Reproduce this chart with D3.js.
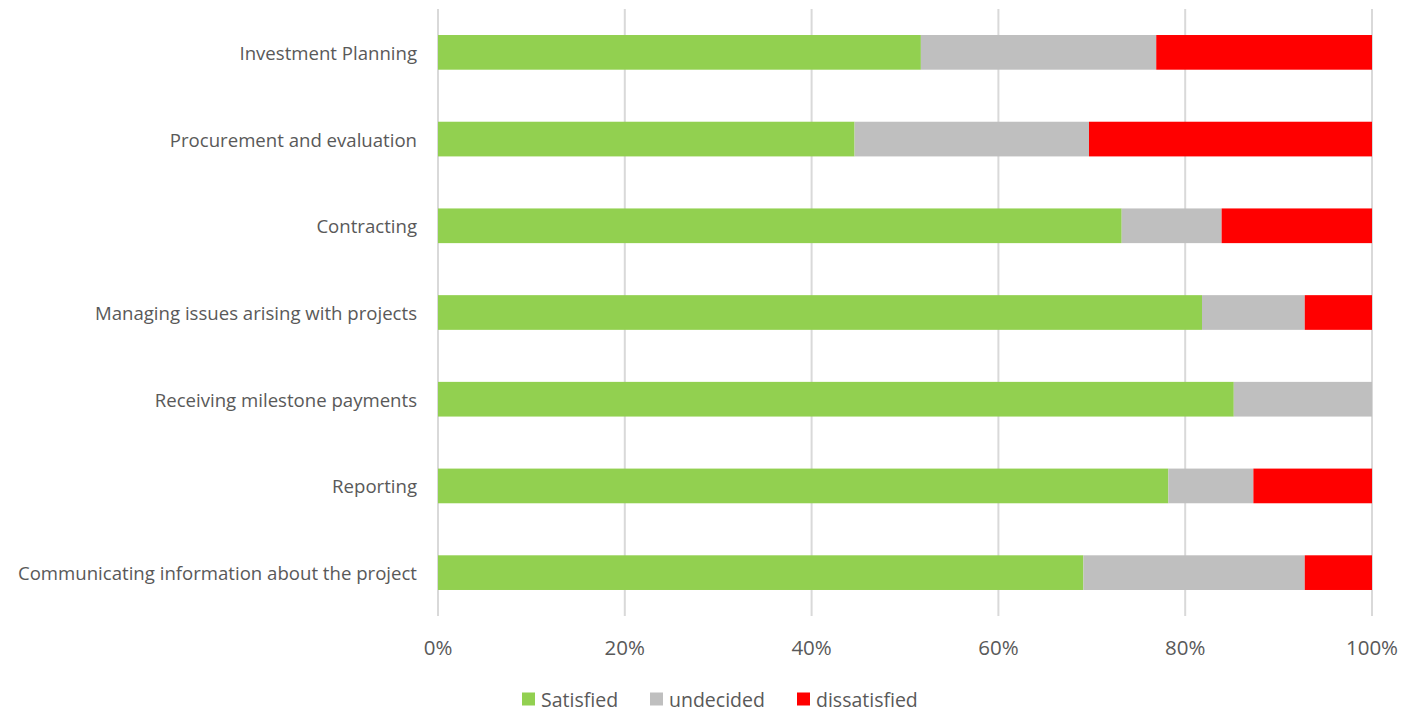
<!DOCTYPE html>
<html>
<head>
<meta charset="utf-8">
<script src="https://cdn.jsdelivr.net/npm/d3@7"></script>
<style>
  body{margin:0;background:#fff;}
  text{font-family:"Open Sans",sans-serif;fill:#595959;}
</style>
</head>
<body>
<svg width="1403" height="711"></svg>
<script>
const categories=['Investment Planning','Procurement and evaluation','Contracting','Managing issues arising with projects','Receiving milestone payments','Reporting','Communicating information about the project'];
const satisfied=[51.7,44.6,73.2,81.8,85.2,78.2,69.1];
const undecided=[25.2,25.1,10.7,11.0,14.8,9.1,23.7];
const dissatisfied=[23.1,30.3,16.1,7.2,0,12.7,7.2];
const seriesNames=['Satisfied','undecided','dissatisfied'];
const colors=['#92d050','#bfbfbf','#ff0000'];
const ticks=[0,20,40,60,80,100];

const svg=d3.select('svg');
const margin={top:9,left:438,right:31,bottom:95};
const W=1403,H=711;

const rows=categories.map((c,i)=>({cat:c,Satisfied:satisfied[i],undecided:undecided[i],dissatisfied:dissatisfied[i]}));
const stacked=d3.stack().keys(seriesNames)(rows);

const x=d3.scaleLinear().domain([0,100]).range([margin.left,W-margin.right]);
const y=d3.scaleBand().domain(categories).range([margin.top,H-margin.bottom]).paddingInner(0.6).paddingOuter(0.3);

//gridlines
svg.append('g').selectAll('line').data(ticks).join('line')
  .attr('x1',d=>x(d)).attr('x2',d=>x(d))
  .attr('y1',margin.top).attr('y2',H-margin.bottom)
  .attr('stroke','#d9d9d9').attr('stroke-width',2);

//bars
svg.append('g').selectAll('g').data(stacked).join('g')
  .attr('fill',(d,i)=>colors[i])
  .selectAll('rect').data(d=>d).join('rect')
  .attr('x',d=>x(d[0]))
  .attr('width',d=>x(d[1])-x(d[0]))
  .attr('y',d=>y(d.data.cat))
  .attr('height',y.bandwidth());

//category labels
svg.append('g').selectAll('text').data(categories).join('text')
  .attr('x',margin.left-21)
  .attr('y',d=>y(d)+y.bandwidth()/2)
  .attr('text-anchor','end')
  .attr('dominant-baseline','central')
  .style('font-size','18.6px')
  .text(d=>d);

//x tick labels
svg.append('g').selectAll('text').data(ticks).join('text')
  .attr('x',d=>x(d))
  .attr('y',647)
  .attr('text-anchor','middle')
  .attr('dominant-baseline','central')
  .style('font-size','20.5px')
  .text(d=>d+'%');

//legend
const legendX=[522,650,797];
const lg=svg.append('g').selectAll('g').data(seriesNames).join('g')
  .attr('transform',(d,i)=>`translate(${legendX[i]},699)`);
lg.append('rect').attr('x',0).attr('y',-6.5).attr('width',13).attr('height',13).attr('fill',(d,i)=>colors[i]);
lg.append('text').attr('x',19).attr('y',0).attr('dominant-baseline','central')
  .style('font-size','19.5px').text(d=>d);
</script>
</body>
</html>
